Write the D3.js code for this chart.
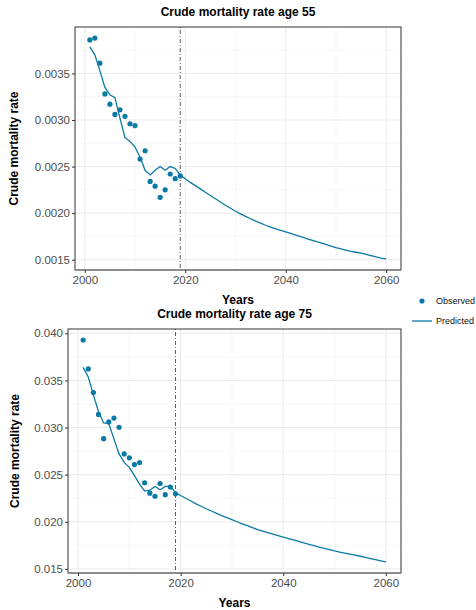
<!DOCTYPE html>
<html>
<head>
<meta charset="utf-8">
<script src="https://cdn.jsdelivr.net/npm/d3@7"></script>
<style>
  body { margin: 0; background: #fff; }
  text { font-family: "Liberation Sans", Arial, sans-serif; }
</style>
</head>
<body>
<div id="chart"></div>
<script>
// Observed years and predicted years
const obsYears = d3.range(2001, 2020);
const predYears = d3.range(2001, 2061);

// Age 55
const obs55 = [0.00386, 0.00388, 0.00361, 0.00328, 0.00317, 0.00306, 0.00311, 0.00304, 0.00296, 0.00294,
    0.00258, 0.00267, 0.00234, 0.00229, 0.00217, 0.00225, 0.00242, 0.00237, 0.0024];
const pred55 = [0.003786, 0.0037, 0.00353, 0.00335, 0.00327, 0.00324, 0.00302, 0.00281, 0.00277, 0.00271,
    0.0026, 0.00246, 0.00241, 0.00246, 0.0025, 0.00246, 0.0025, 0.00248, 0.00241,
    0.00237, 0.00233, 0.002295, 0.00226, 0.002225, 0.00219, 0.002155, 0.00212, 0.002085, 0.002052,
    0.00202, 0.001992, 0.001965, 0.00194, 0.001915, 0.001892, 0.00187, 0.00185, 0.001831, 0.001815,
    0.0018, 0.001782, 0.001764, 0.001747, 0.00173, 0.001713, 0.001697, 0.001681, 0.001665, 0.001647,
    0.00163, 0.001617, 0.001603, 0.00159, 0.00158, 0.00157, 0.001558, 0.001545, 0.00153, 0.001518, 0.001508];

// Age 75
const obs75 = [0.03928, 0.03622, 0.03372, 0.03139, 0.02882, 0.0306, 0.031, 0.03003, 0.0272, 0.02679,
    0.02607, 0.02628, 0.02414, 0.02303, 0.02271, 0.02406, 0.02288, 0.02368, 0.02297];
const pred75 = [0.03639, 0.03536, 0.03346, 0.03167, 0.03049, 0.03043, 0.0288, 0.0272, 0.0263, 0.02578,
    0.02489, 0.024, 0.02325, 0.02335, 0.02375, 0.0234, 0.02375, 0.02375, 0.02311,
    0.02279, 0.0225, 0.0222, 0.0219, 0.02165, 0.02138, 0.02114, 0.0209, 0.02066, 0.02044,
    0.02022, 0.02, 0.01978, 0.01958, 0.01937, 0.01917, 0.01901, 0.01885, 0.01869, 0.01853,
    0.01838, 0.01822, 0.01807, 0.01791, 0.01776, 0.01761, 0.01746, 0.01732, 0.01718, 0.01704,
    0.0169, 0.01679, 0.01668, 0.01656, 0.01645, 0.01634, 0.01622, 0.0161, 0.01598, 0.01586, 0.01574];

// Tick labels
const xTicks = [2000, 2020, 2040, 2060];
const xMinor = [2010, 2030, 2050];
const yTicks55 = [0.0015, 0.0020, 0.0025, 0.0030, 0.0035];
const yTicks75 = [0.015, 0.020, 0.025, 0.030, 0.035, 0.040];
const legendLabels = ["Observed", "Predicted"];

const cutYear = 2019;
const color = "#0a79a3";

const svg = d3.select("#chart").append("svg")
    .attr("width", 476)
    .attr("height", 610);

function expand(ext) {
    const pad = (ext[1] - ext[0]) * 0.05;
    return [ext[0] - pad, ext[1] + pad];
}

function drawPanel(cfg) {
    const g = svg.append("g");
    const x = d3.scaleLinear()
        .domain(expand(d3.extent(predYears)))
        .range([cfg.left, cfg.right]);
    const allY = cfg.obs.concat(cfg.pred);
    const y = d3.scaleLinear()
        .domain(expand(d3.extent(allY)))
        .range([cfg.bottom, cfg.top]);

    // minor grid
    const yMinor = cfg.yTicks.slice(0, -1).map((d, i) => (d + cfg.yTicks[i + 1]) / 2);
    const step = cfg.yTicks[1] - cfg.yTicks[0];
    yMinor.push(cfg.yTicks[cfg.yTicks.length - 1] + step / 2);
    yMinor.unshift(cfg.yTicks[0] - step / 2);
    g.selectAll(".ymin").data(yMinor.filter(d => y(d) > cfg.top && y(d) < cfg.bottom)).enter()
        .append("line")
        .attr("x1", cfg.left).attr("x2", cfg.right)
        .attr("y1", d => y(d)).attr("y2", d => y(d))
        .attr("stroke", "#f2f2f2").attr("stroke-width", 0.6);
    g.selectAll(".xmin").data(xMinor).enter()
        .append("line")
        .attr("x1", d => x(d)).attr("x2", d => x(d))
        .attr("y1", cfg.top).attr("y2", cfg.bottom)
        .attr("stroke", "#f2f2f2").attr("stroke-width", 0.6);

    // major grid
    g.selectAll(".ymaj").data(cfg.yTicks).enter()
        .append("line")
        .attr("x1", cfg.left).attr("x2", cfg.right)
        .attr("y1", d => y(d)).attr("y2", d => y(d))
        .attr("stroke", "#ebebeb").attr("stroke-width", 1);
    g.selectAll(".xmaj").data(xTicks).enter()
        .append("line")
        .attr("x1", d => x(d)).attr("x2", d => x(d))
        .attr("y1", cfg.top).attr("y2", cfg.bottom)
        .attr("stroke", "#ebebeb").attr("stroke-width", 1);

    // cut-off line
    g.append("line")
        .attr("x1", x(cutYear)).attr("x2", x(cutYear))
        .attr("y1", cfg.top).attr("y2", cfg.bottom)
        .attr("stroke", "#333").attr("stroke-width", 0.8)
        .attr("stroke-dasharray", "1,2,4,2");

    // predicted line
    const line = d3.line()
        .x((d, i) => x(predYears[i]))
        .y(d => y(d));
    g.append("path")
        .datum(cfg.pred)
        .attr("fill", "none")
        .attr("stroke", color)
        .attr("stroke-width", 1.3)
        .attr("d", line);

    // observed points
    g.selectAll(".pt").data(cfg.obs).enter()
        .append("circle")
        .attr("cx", (d, i) => x(obsYears[i]))
        .attr("cy", d => y(d))
        .attr("r", 2.6)
        .attr("fill", color);

    // border
    g.append("rect")
        .attr("x", cfg.left).attr("y", cfg.top)
        .attr("width", cfg.right - cfg.left).attr("height", cfg.bottom - cfg.top)
        .attr("fill", "none").attr("stroke", "#333").attr("stroke-width", 1);
    g.append("line")
        .attr("x1", cfg.left).attr("x2", cfg.right)
        .attr("y1", cfg.bottom).attr("y2", cfg.bottom)
        .attr("stroke", "#888").attr("stroke-width", 1.5);

    // axes
    const xAxis = d3.axisBottom(x).tickValues(xTicks).tickFormat(d3.format("d")).tickSize(3).tickPadding(3);
    const xa = g.append("g").attr("transform", `translate(0,${cfg.bottom})`).call(xAxis);
    const yAxis = d3.axisLeft(y).tickValues(cfg.yTicks).tickFormat(d3.format(cfg.fmt)).tickSize(3).tickPadding(2);
    const ya = g.append("g").attr("transform", `translate(${cfg.left},0)`).call(yAxis);
    [xa, ya].forEach(a => {
        a.select(".domain").remove();
        a.selectAll(".tick line").attr("stroke", "#333");
        a.selectAll(".tick text").attr("fill", "#4d4d4d").style("font-size", "11.5px");
    });

    // titles
    g.append("text")
        .attr("x", (cfg.left + cfg.right) / 2).attr("y", cfg.top - 11)
        .attr("text-anchor", "middle")
        .style("font-size", "12px").style("font-weight", "bold")
        .text(cfg.title);
    g.append("text")
        .attr("x", (cfg.left + cfg.right) / 2).attr("y", cfg.bottom + 34)
        .attr("text-anchor", "middle")
        .style("font-size", "12px").style("font-weight", "bold")
        .text("Years");
    g.append("text")
        .attr("transform", `translate(${cfg.ylabX},${(cfg.top + cfg.bottom) / 2}) rotate(-90)`)
        .attr("text-anchor", "middle")
        .style("font-size", "12px").style("font-weight", "bold")
        .text("Crude mortality rate");
}

drawPanel({ left: 75, right: 401, top: 27, bottom: 270, obs: obs55, pred: pred55,
    yTicks: yTicks55, fmt: ".4f", title: "Crude mortality rate age 55", ylabX: 18 });
drawPanel({ left: 68, right: 401, top: 329, bottom: 573, obs: obs75, pred: pred75,
    yTicks: yTicks75, fmt: ".3f", title: "Crude mortality rate age 75", ylabX: 19 });

// legend
const legend = svg.append("g");
legend.append("circle").attr("cx", 422).attr("cy", 301).attr("r", 2.6).attr("fill", color);
legend.append("line").attr("x1", 412).attr("x2", 432).attr("y1", 321).attr("y2", 321)
    .attr("stroke", color).attr("stroke-width", 1.3);
legend.selectAll(".lab").data(legendLabels).enter()
    .append("text")
    .attr("x", 436).attr("y", (d, i) => 304 + i * 20)
    .style("font-size", "9px").attr("fill", "#111")
    .text(d => d);
</script>
</body>
</html>
